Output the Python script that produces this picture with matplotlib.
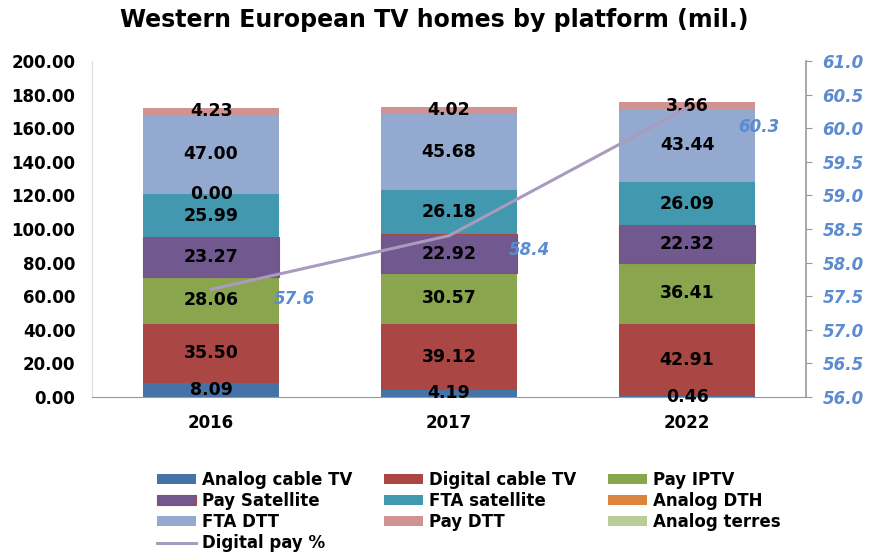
import matplotlib.pyplot as plt
import numpy as np

plt.rcParams['font.family'] = ['DejaVu Sans']

years = ['2016', '2017', '2022']
series = ['Analog cable TV', 'Digital cable TV', 'Pay IPTV', 'Pay Satellite',
          'FTA satellite', 'Analog DTH', 'FTA DTT', 'Pay DTT', 'Analog terres']

analog_cable = [8.09, 4.19, 0.46]
digital_cable = [35.50, 39.12, 42.91]
pay_iptv = [28.06, 30.57, 36.41]
pay_sat = [23.27, 22.92, 22.32]
fta_sat = [25.99, 26.18, 26.09]
analog_dth = [0.00, np.nan, np.nan]
fta_dtt = [47.00, 45.68, 43.44]
pay_dtt = [4.23, 4.02, 3.66]
analog_terres = [np.nan, np.nan, np.nan]

digital_pay_pct = [57.6, 58.4, 60.3]

values = [analog_cable, digital_cable, pay_iptv, pay_sat, fta_sat,
          analog_dth, fta_dtt, pay_dtt, analog_terres]
colors = ['#4572A7', '#AA4643', '#89A54E', '#71588F', '#4198AF',
          '#DB843D', '#93A9CF', '#D19392', '#B9CD96']
edges = [None, None, None, '#AA4643', None, None, None, None, None]

fig = plt.figure(figsize=(8.69, 5.52), dpi=100)
ax = fig.add_axes([0.106, 0.281, 0.8215, 0.6085])

x = np.arange(len(years))
width = 0.57
bottom = np.zeros(len(years))
handles = []
for name, vals, col, ec in zip(series, values, colors, edges):
    v = np.array(vals, dtype=float)
    h = np.nan_to_num(v)
    b = ax.bar(x, h, width, bottom=bottom, color=col, label=name,
               edgecolor=ec if ec else col, linewidth=0.8 if ec else 0)
    handles.append(b)
    for i in range(len(years)):
        if not np.isnan(v[i]):
            ax.text(x[i], bottom[i] + h[i] / 2, f'{v[i]:.2f}', ha='center', va='center',
                    fontsize=12.5, fontweight='bold', color='black', zorder=5)
    bottom += h

ax.set_xlim(-0.5, 2.5)
ax.set_ylim(0, 200)
ax.set_yticks(np.arange(0, 201, 20))
ax.set_yticklabels([f'{t:.2f}' for t in np.arange(0, 201, 20)], fontsize=12, fontweight='bold')
ax.set_xticks(x)
ax.set_xticklabels(years, fontsize=12, fontweight='bold')
ax.tick_params(axis='y', length=0, pad=12)
ax.tick_params(axis='x', length=0, pad=12)
for s in ['top', 'right']:
    ax.spines[s].set_visible(False)
ax.spines['left'].set_color('#dddddd')
ax.spines['bottom'].set_color('#999999')

ax2 = ax.twinx()
line, = ax2.plot(x, digital_pay_pct, color='#A99BBD', linewidth=2.2, label='Digital pay %')
label_offsets = [(45, -7), (43, -10), (37, -14)]
for xi, yi, off in zip(x, digital_pay_pct, label_offsets):
    ax2.annotate(f'{yi:.1f}', xy=(xi, yi), xytext=off, textcoords='offset points',
                 ha='left', va='center', color='#5B8BD0', fontsize=12,
                 fontweight='bold', fontstyle='italic')
ax2.set_ylim(56, 61)
ax2.set_yticks(np.arange(56, 61.01, 0.5))
ax2.set_yticklabels([f'{t:.1f}' for t in np.arange(56, 61.01, 0.5)], fontsize=12,
                    fontweight='bold', fontstyle='italic', color='#5B8BD0')
ax2.tick_params(axis='y', length=4, color='#999999', pad=8)
for s in ['top', 'left', 'bottom']:
    ax2.spines[s].set_visible(False)
ax2.spines['right'].set_color('#999999')
ax2.spines['right'].set_linewidth(1.2)

fig.text(0.5, 0.963, 'Western European TV homes by platform (mil.)', ha='center', va='center',
         fontsize=17, fontweight='bold')

allh = handles + [line]
order = [0, 3, 6, 9, 1, 4, 7, 2, 5, 8]
fig.legend([allh[i] for i in order], [allh[i].get_label() for i in order],
           loc='upper left', bbox_to_anchor=(0.1807, 0.147), ncol=3, frameon=False,
           prop={'size': 12, 'weight': 'bold'}, handlelength=2.35, handleheight=0.5,
           handletextpad=0.36, columnspacing=1.9, labelspacing=0.18, borderaxespad=0,
           borderpad=0)

fig.savefig('out.png', dpi=100)
